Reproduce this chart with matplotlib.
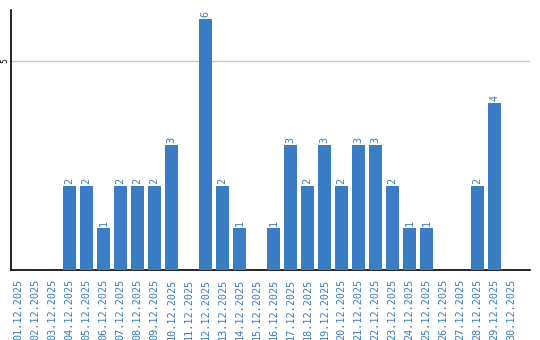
import matplotlib
matplotlib.use("Agg")
import matplotlib.pyplot as plt

categories = ["01.12.2025", "02.12.2025", "03.12.2025", "04.12.2025", "05.12.2025",
              "06.12.2025", "07.12.2025", "08.12.2025", "09.12.2025", "10.12.2025",
              "11.12.2025", "12.12.2025", "13.12.2025", "14.12.2025", "15.12.2025",
              "16.12.2025", "17.12.2025", "18.12.2025", "19.12.2025", "20.12.2025",
              "21.12.2025", "22.12.2025", "23.12.2025", "24.12.2025", "25.12.2025",
              "26.12.2025", "27.12.2025", "28.12.2025", "29.12.2025", "30.12.2025"]
values = [0, 0, 0, 2, 2, 1, 2, 2, 2, 3, 0, 6, 2, 1, 0, 1, 3, 2, 3, 2, 3, 3, 2, 1, 1, 0, 0, 2, 4, 0]

bar_color = "#3b7dc4"
text_color = "#3a7bbf"

fig = plt.figure(figsize=(5.4, 3.4), dpi=100)
ax = fig.add_axes([11/540, 70/340, 519/540, 260/340])

x = list(range(len(categories)))
ax.bar(x, values, width=0.82, color=bar_color, zorder=3)
for xi, v in zip(x, values):
    if v > 0:
        ax.text(xi, v + 0.05, str(v), rotation=90, ha="center", va="bottom",
                color=text_color, fontsize=7.3, family="DejaVu Sans Mono")

ax.set_xlim(-0.44, 30.09)
ax.set_ylim(0, 6.22)
ax.set_yticks([5])
ax.set_yticklabels(["5"], rotation=90, va="center", fontsize=5.5, family="DejaVu Sans")
ax.yaxis.grid(True, color="#c8c8c8", linewidth=1, zorder=0)
ax.tick_params(axis="y", length=0, pad=1)
ax.set_xticks(x)
ax.set_xticklabels(categories, rotation=90, color=text_color, fontsize=7.3,
                   family="DejaVu Sans Mono")
ax.tick_params(axis="x", length=0, pad=6)
for s in ["top", "right"]:
    ax.spines[s].set_visible(False)
ax.spines["left"].set_color("black")
ax.spines["bottom"].set_color("black")
ax.spines["left"].set_linewidth(1.2)
ax.spines["bottom"].set_linewidth(1.2)

fig.savefig("out.png", dpi=100)
